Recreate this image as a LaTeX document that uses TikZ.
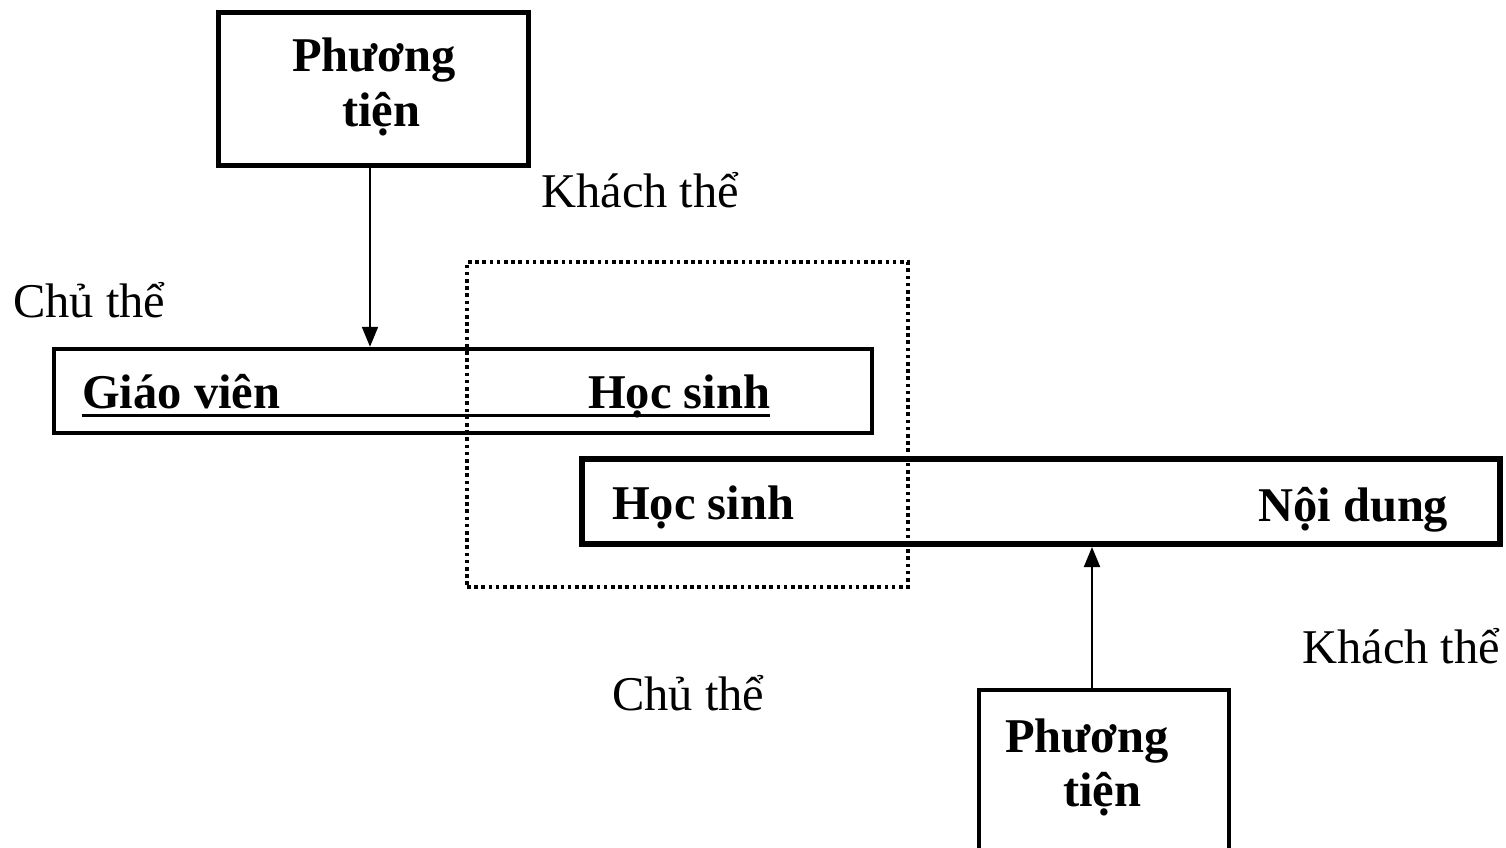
\documentclass[tikz,border=0pt]{standalone}
\usepackage{fontspec}
\setmainfont{Liberation Serif}
\usetikzlibrary{arrows.meta}
\begin{document}
\begin{tikzpicture}[x=1pt,y=-1pt,
  every node/.style={font=\fontsize{48.5}{54}\selectfont, inner sep=0pt},
  lbl/.style={anchor=base west},
  blbl/.style={anchor=base west, font=\fontsize{48.5}{54}\selectfont\bfseries},
  frame/.style={draw, rectangle, inner sep=0pt},
  arr/.style={line width=2pt, -{Triangle[width=16pt,length=20pt]}}
]
\clip (0,0) rectangle (1506,847);
\fill[white] (0,0) rectangle (1506,847);
% boxes
\node[frame, line width=5.5pt, minimum width=310pt, minimum height=153pt] (ptA) at (373.5,89) {};
\node[frame, line width=4.5pt, minimum width=818pt, minimum height=84pt] (gv) at (463,391) {};
\node[frame, line width=6pt, minimum width=918pt, minimum height=85pt] (hs) at (1041,501.5) {};
\node[frame, line width=4.5pt, minimum width=250pt, minimum height=200pt] (ptB) at (1104,790) {};
% texts
\node[blbl] (t1) at (292,71) {Phương};
\node[blbl] (t2) at (342,126) {tiện};
\node[lbl] (k1) at (541,207) {Khách thể};
\node[lbl] (c1) at (13,317) {Chủ thể};
\node[blbl] (gvt) at (82,408) {Giáo viên};
\node[blbl] (hs1) at (588,408) {Học sinh};
\draw[line width=3pt] ([yshift=-7pt]gvt.base west) -- ([yshift=-7pt]hs1.base east);
\node[blbl] (hs2) at (612,519) {Học sinh};
\node[blbl] (nd) at (1258,521) {Nội dung};
\node[lbl] (k2) at (1302,663) {Khách thể};
\node[lbl] (c2) at (612,710) {Chủ thể};
\node[blbl] (t3) at (1005,752) {Phương};
\node[blbl] (t4) at (1063,806) {tiện};
% dotted frame
\node[draw, line width=4pt, dash pattern=on 3.6pt off 3.6pt, minimum width=441pt, minimum height=325pt] (kt) at (687.5,424.5) {};
% arrows
\draw[arr] (370,0 |- ptA.south) -- (370,0 |- gv.north);
\draw[arr] (1092,0 |- ptB.north) -- (1092,0 |- hs.south);
\end{tikzpicture}
\end{document}
